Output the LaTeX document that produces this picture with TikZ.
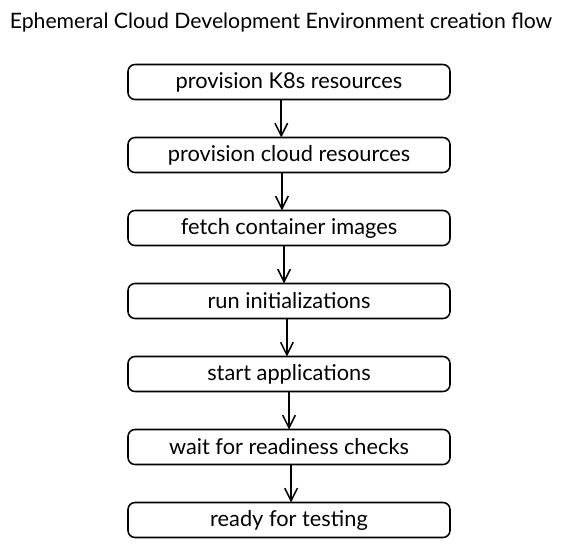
\documentclass[tikz,border=0pt]{standalone}
\usepackage{fontspec}
\setmainfont{Lato}
\usepackage{tikz}
\usetikzlibrary{positioning, arrows.meta}

\begin{document}
\begin{tikzpicture}[
                node distance=0.95cm, % Gap between steps
                stepbox/.style={rectangle, rounded corners=5pt, draw, line width=1.1pt, outer sep=0pt, minimum width=8.05cm, minimum height=0.875cm, inner sep=0pt, font=\fontsize{15.5}{18}\selectfont}, % Box for each step
                flow/.style={-{Straight Barb[length=9pt, width=9pt]}, line width=1.1pt} % Arrow between steps
                ]
                \useasboundingbox (0,0) rectangle (14.05,-13.65);
                \node (title) at (7.025,-0.57) {\fontsize{15.1}{18}\selectfont Ephemeral Cloud Development Environment creation flow};
                \node[stepbox] (k8s) at (7.225,-2.05) {provision K8s resources};
                \node[stepbox, below=of k8s] (cloud) {provision cloud resources};
                \node[stepbox, below=of cloud] (images) {fetch container images};
                \node[stepbox, below=of images] (init) {run initializations};
                \node[stepbox, below=of init] (apps) {start applications};
                \node[stepbox, below=of apps] (checks) {wait for readiness checks};
                \node[stepbox, below=of checks] (ready) {ready for testing};
                \foreach \a/\b/\s in {k8s/cloud/-5.5, cloud/images/-5, images/init/-3.5, init/apps/-1.5, apps/checks/0, checks/ready/1.5}
                    \draw[flow] ([xshift=\s pt]\a.south) -- ([xshift=\s pt]\b.north);
            \end{tikzpicture}
\end{document}
